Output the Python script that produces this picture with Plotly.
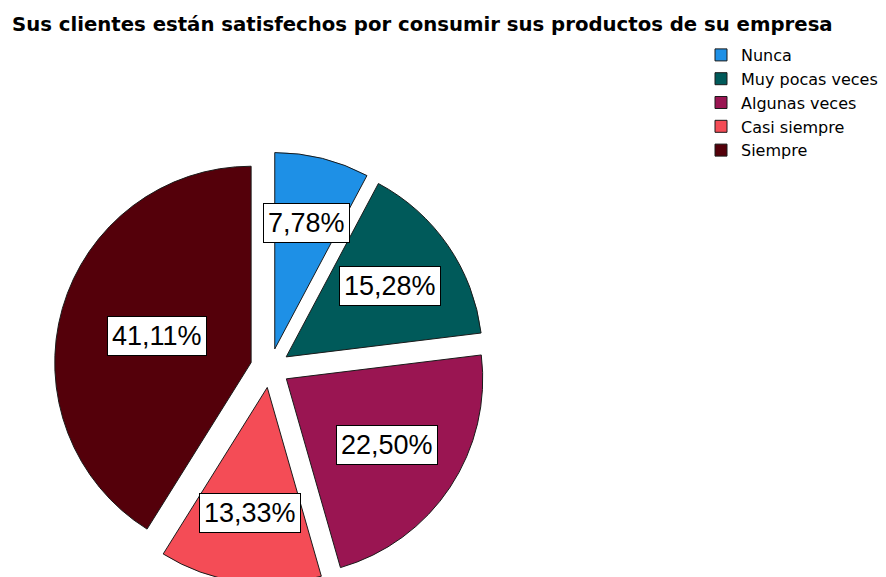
import math
import plotly.graph_objects as go

categories = ['Nunca', 'Muy pocas veces', 'Algunas veces', 'Casi siempre', 'Siempre']
percents = [7.78, 15.28, 22.50, 13.33, 41.11]
colors = ['#1E90E6', '#005A5A', '#9A1552', '#F44C56', '#54000A']

W, H = 886, 577
pull = 0.1
# pie domain in pixels (square)
cx, cy, half = 262, 360, 216
dom_x = [(cx - half) / W, (cx + half) / W]
dom_y = [max(0, (H - cy - half) / H), (H - cy + half) / H]

fig = go.Figure()
fig.add_trace(go.Pie(
    labels=categories,
    values=percents,
    sort=False,
    direction='clockwise',
    rotation=0,
    pull=[pull] * len(percents),
    marker=dict(colors=colors, line=dict(color='#1a1a1a', width=1)),
    textinfo='none',
    hoverinfo='label+percent',
    domain=dict(x=dom_x, y=dom_y),
))

# percentage labels in white boxes, placed at each slice's centroid
r = half / (1 + pull)
total = sum(percents)
start = 0
for cat, p in zip(categories, percents):
    a = p / total * math.pi  # half angle of the slice
    mid = (start + p / 2) / total * 2 * math.pi
    start += p
    d = r * (2 / 3) * math.sin(a) / a + r * pull
    px = cx + d * math.sin(mid)
    py = cy - d * math.cos(mid)
    fig.add_annotation(
        x=px / W, y=1 - py / H, xref='paper', yref='paper',
        xanchor='center', yanchor='middle',
        text=f'{p:.2f}%'.replace('.', ','),
        showarrow=False,
        font=dict(family='Liberation Sans', size=27, color='black'),
        bgcolor='white', bordercolor='black', borderwidth=1, borderpad=4,
    )

fig.update_layout(
    width=W, height=H,
    margin=dict(l=0, r=0, t=0, b=0),
    paper_bgcolor='white',
    plot_bgcolor='white',
    title=dict(
        text='<b>Sus clientes están satisfechos por consumir sus productos de su empresa</b>',
        x=4 / W, xanchor='left', y=1 - 16 / H, yanchor='middle',
        font=dict(family='DejaVu Sans', size=19.7, color='black'),
    ),
    legend=dict(
        x=693 / W, xanchor='left', y=1 - 30 / H, yanchor='top',
        font=dict(family='DejaVu Sans', size=16, color='black'),
        itemwidth=30, tracegroupgap=0,
        bgcolor='rgba(0,0,0,0)',
    ),
    showlegend=True,
)

fig.write_html('out.html')
